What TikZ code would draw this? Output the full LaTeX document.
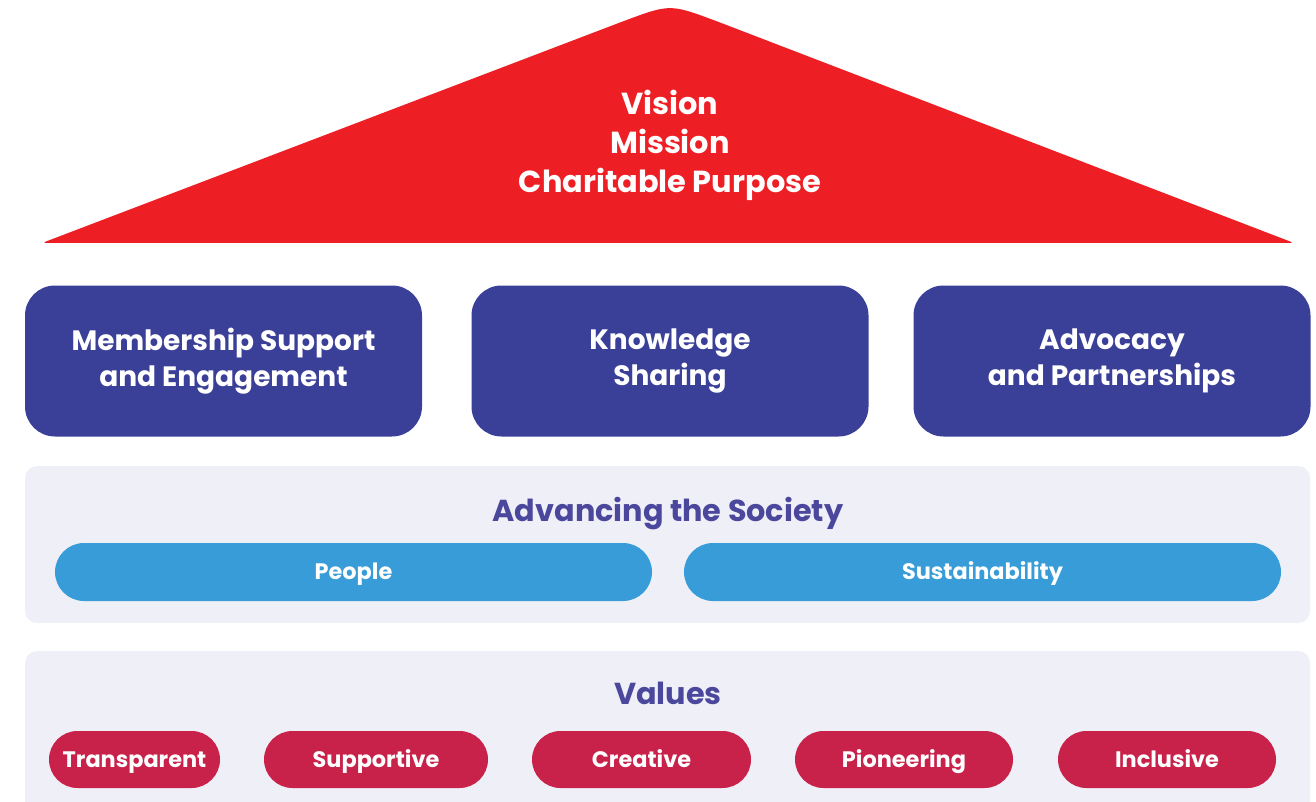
\documentclass[tikz,border=0pt]{standalone}
\usepackage{fontspec}
\setmainfont{Poppins}
\definecolor{visionred}{HTML}{ED1F24}
\definecolor{pillarblue}{HTML}{3A3F98}
\definecolor{panelgrey}{HTML}{EEEFF7}
\definecolor{headblue}{HTML}{4A479C}
\definecolor{skyblue}{HTML}{379CD7}
\definecolor{valuered}{HTML}{C8224A}
\begin{document}
\begin{tikzpicture}[x=1pt,y=-1pt,
  pillar/.style={fill=pillarblue, text=white, rounded corners=30pt, minimum width=397pt, minimum height=151pt, align=center, font=\bfseries\fontsize{28}{36}\selectfont},
  panel/.style={fill=panelgrey, rounded corners=12pt, minimum width=1285pt},
  heading/.style={text=headblue, text height=21pt, text depth=0pt, font=\bfseries\fontsize{30.3}{34}\selectfont},
  aimpill/.style={fill=skyblue, text=white, rounded corners=29pt, minimum width=597pt, minimum height=58pt, text height=15.7pt, text depth=0pt, font=\bfseries\fontsize{22.4}{24}\selectfont},
  valuepill/.style={fill=valuered, text=white, rounded corners=28.5pt, minimum height=57pt, text height=15.7pt, text depth=0pt, font=\bfseries\fontsize{22.4}{24}\selectfont}]
\useasboundingbox (0,0) rectangle (1316,802);
\clip (0,0) rectangle (1316,802);

% roof
\fill[visionred, rounded corners=4pt] (42,243) -- (620,22.5) .. controls (670,3.8) .. (720,22.5) -- (1294,243) -- cycle;
\node[text=white, align=center, font=\bfseries\fontsize{30.4}{39}\selectfont] (vision) at (670,145) {Vision\\Mission\\Charitable Purpose};

% pillars
\node[pillar] (membership) at (223.5,361) {Membership Support\\and Engagement};
\node[pillar] (knowledge) at (670,361) {Knowledge\\Sharing};
\node[pillar] (advocacy) at (1112,361) {Advocacy\\and Partnerships};

% advancing the society
\node[panel, minimum height=157pt] (society) at (667.5,544.5) {};
\node[heading] (societytitle) at (668,511) {Advancing the Society};
\node[aimpill] (people) at (353.5,572) {People};
\node[aimpill] (sustainability) at (982.5,572) {Sustainability};

% values
\node[panel, minimum height=170pt] (values) at (667.5,736) {};
\node[heading] (valuestitle) at (668,694) {Values};
\node[valuepill, minimum width=171pt] (transparent) at (134.5,759.5) {Transparent};
\node[valuepill, minimum width=224pt] (supportive) at (376,759.5) {Supportive};
\node[valuepill, minimum width=219pt] (creative) at (641.5,759.5) {Creative};
\node[valuepill, minimum width=218pt] (pioneering) at (904,759.5) {Pioneering};
\node[valuepill, minimum width=218pt] (inclusive) at (1167,759.5) {Inclusive};
\end{tikzpicture}
\end{document}
